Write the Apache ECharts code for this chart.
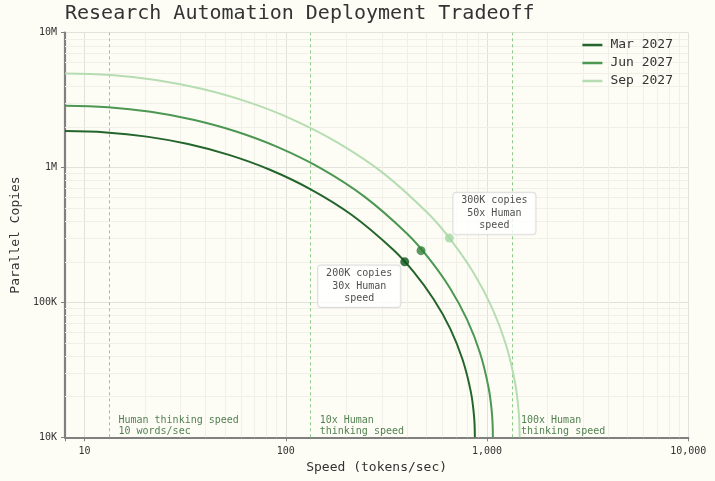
<!DOCTYPE html>
<html><head><meta charset="utf-8">
<script src="https://cdn.jsdelivr.net/npm/echarts@6/dist/echarts.min.js"></script>
<style>html,body{margin:0;padding:0;background:#fdfdf6}#c{width:715px;height:481px}</style>
</head><body><div id="c"></div>
<script>
// ---- data ----
const seriesNames = ['Mar 2027', 'Jun 2027', 'Sep 2027'];

const marSpeed  = [8, 12.8, 20.4, 32.7, 52.2, 83.4, 133, 213, 341, 431, 544, 657, 755, 830, 862, 870];
const marCopies = [1865000, 1823000, 1696000, 1495000, 1242000, 964000, 690000, 445000, 247000, 169000, 105000, 63700, 37900, 21900, 14300, 10000];

const junSpeed  = [8, 13.1, 21.3, 34.7, 56.7, 92.5, 151, 246, 402, 513, 655, 797, 923, 1018, 1059, 1069];
const junCopies = [2872000, 2802000, 2591000, 2261000, 1850000, 1406000, 979000, 609000, 322000, 213000, 127500, 74300, 42200, 23300, 14700, 10000];

const sepSpeed  = [8, 13.5, 22.6, 38.1, 64.1, 107.7, 181, 305, 513, 665, 863, 1062, 1242, 1378, 1437, 1452];
const sepCopies = [4990000, 4859000, 4460000, 3839000, 3081000, 2280000, 1532000, 910000, 452000, 287000, 163000, 90400, 48600, 25400, 15300, 10000];

const dotSpeed  = [390, 470, 650];
const dotCopies = [200000, 242000, 300000];
const dotLabels = ['200K copies\n30x Human\nspeed', '', '300K copies\n50x Human\nspeed'];

const refSpeed  = [13.3, 133, 1330];
const refLabels = ['Human thinking speed\n10 words/sec', '10x Human\nthinking speed', '100x Human\nthinking speed'];

const xTickValues = [10, 100, 1000, 10000];
const xTickLabels = ['10', '100', '1,000', '10,000'];
const yTickValues = [1e4, 1e5, 1e6, 1e7];
const yTickLabels = ['10K', '100K', '1M', '10M'];

const xMinorTicks = [20,30,40,50,60,70,80,90,200,300,400,500,600,700,800,900,2000,3000,4000,5000,6000,7000,8000,9000];
const yMinorTicks = [2e4,3e4,4e4,5e4,6e4,7e4,8e4,9e4,2e5,3e5,4e5,5e5,6e5,7e5,8e5,9e5,2e6,3e6,4e6,5e6,6e6,7e6,8e6,9e6];

// ---- styling ----
const FONT = '"DejaVu Sans Mono", monospace';
const lineColors = ['#24652c', '#4c9752', '#b6ddb2'];
const dotColors  = ['#0b541a', '#2f7d36', '#a4d6a2'];
const labelOffsets = [[-45.5, 24.5], [0, 0], [45, -24.7]];

function zip(a, b) { return a.map((v, i) => [v, b[i]]); }
function fmt(values, labels) {
  return function (v) {
    for (let i = 0; i < values.length; i++) {
      if (Math.abs(Math.log10(v) - Math.log10(values[i])) < 1e-6) return labels[i];
    }
    return '';
  };
}

const curves = [zip(marSpeed, marCopies), zip(junSpeed, junCopies), zip(sepSpeed, sepCopies)];

const chart = echarts.init(document.getElementById('c'), null, {renderer: 'canvas'});

const series = [];
// minor grid lines via axis scales
series.push({
  type: 'line', data: [], silent: true,
  markLine: {
    z: 1, silent: true, symbol: ['none', 'none'], label: {show: false},
    lineStyle: {color: '#f0f0e9', type: 'solid', width: 1},
    emphasis: {disabled: true},
    data: xMinorTicks.map(v => ({xAxis: v})).concat(yMinorTicks.map(v => ({yAxis: v})))
  }
});
// reference dashed lines + labels
series.push({
  type: 'scatter', silent: true, clip: false, symbolSize: 0, z: 3,
  data: refSpeed.map((s, i) => ({value: [s, 1e4], label: {formatter: refLabels[i]}})),
  label: {
    show: true, position: 'right', distance: 9, offset: [0, -11.5],
    fontFamily: FONT, fontSize: 10, lineHeight: 11.5, color: '#245f26', align: 'left'
  },
  markLine: {
    z: 2, silent: true, symbol: ['none', 'none'], label: {show: false},
    lineStyle: {color: '#8acb88', type: [3, 3], width: 1},
    data: refSpeed.map(v => ({xAxis: v}))
  }
});
curves.forEach((d, i) => {
  series.push({
    name: seriesNames[i], type: 'line', data: d, smooth: 0.4,
    symbol: 'none', showSymbol: false, z: 4,
    lineStyle: {color: lineColors[i], width: 2},
    itemStyle: {color: lineColors[i]}
  });
});
series.push({
  type: 'scatter', silent: true, z: 6, symbolSize: 9,
  data: dotSpeed.map((s, i) => ({
    value: [s, dotCopies[i]],
    itemStyle: {color: dotColors[i]},
    label: dotLabels[i] ? {
      show: true, formatter: dotLabels[i], position: 'inside', offset: labelOffsets[i]
    } : {show: false}
  })),
  label: {
    fontFamily: FONT, fontSize: 10, lineHeight: 12.5, color: '#222', align: 'center',
    backgroundColor: '#ffffff', borderColor: '#d4d4d4', borderWidth: 1, borderRadius: 3,
    padding: [2, 8]
  }
});

chart.setOption({
  backgroundColor: '#fdfdf6',
  animation: false,
  textStyle: {fontFamily: FONT},
  title: {
    text: 'Research Automation Deployment Tradeoff', left: 65, top: 4, padding: 0,
    textStyle: {fontFamily: FONT, fontSize: 20, fontWeight: 'normal', color: '#333'}
  },
  legend: {
    data: seriesNames, orient: 'vertical', right: 37, top: 33, itemGap: 4,
    icon: 'rect', itemWidth: 20, itemHeight: 2.5,
    textStyle: {fontFamily: FONT, fontSize: 13, color: '#333', padding: [0, 0, 0, 3], lineHeight: 14}
  },
  grid: {left: 65, right: 26.7, top: 32.7, bottom: 43.7, containLabel: false},
  xAxis: {
    type: 'log', logBase: 10, min: 8, max: 10000,
    name: 'Speed (tokens/sec)', nameLocation: 'middle', nameGap: 24,
    nameTextStyle: {fontFamily: FONT, fontSize: 13, color: '#333'},
    axisLine: {show: true, lineStyle: {color: '#808080', width: 2.2}},
    axisTick: {show: true, length: 4, lineStyle: {color: '#808080'}},
    axisLabel: {fontFamily: FONT, fontSize: 10, color: '#333', margin: 9, formatter: fmt(xTickValues, xTickLabels)},
    splitLine: {show: true, lineStyle: {color: '#e2e2dc', width: 1}}
  },
  yAxis: {
    type: 'log', logBase: 10, min: 1e4, max: 1e7,
    name: 'Parallel Copies', nameLocation: 'middle', nameGap: 43,
    nameTextStyle: {fontFamily: FONT, fontSize: 13, color: '#333'},
    axisLine: {show: true, lineStyle: {color: '#808080', width: 2.2}},
    axisTick: {show: true, length: 4, lineStyle: {color: '#808080'}},
    axisLabel: {fontFamily: FONT, fontSize: 10, color: '#333', margin: 8, formatter: fmt(yTickValues, yTickLabels)},
    splitLine: {show: true, lineStyle: {color: '#e2e2dc', width: 1}}
  },
  series: series
});
</script></body></html>
